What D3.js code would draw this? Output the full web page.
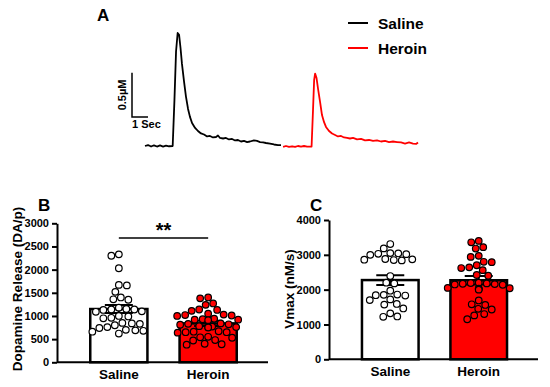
<!DOCTYPE html>
<html>
<head>
<meta charset="utf-8">
<script src="https://cdn.jsdelivr.net/npm/d3@7"></script>
<style>
  body { margin: 0; background: #fff; }
  text { font-family: "Liberation Sans", Arial, sans-serif; font-weight: bold; fill: #000; }
</style>
</head>
<body>
<div id="chart"></div>
<script>
var groups = ["Saline", "Heroin"];
var barFill = ["#ffffff", "#ff0000"];
var traceColor = ["#000000", "#ff0000"];

// A: example traces, [seconds, µM]
var salineTrace = [[0,0],[0.19,0.011],[0.38,-0.006],[0.56,0.008],[0.75,-0.006],[0.94,0.006],[1.13,-0.006],[1.31,0.003],[1.5,-0.003],[1.73,0],[1.84,0.52],[1.94,1.07],[2.04,1.28],[2.13,1.26],[2.22,1.11],[2.31,0.93],[2.44,0.73],[2.56,0.56],[2.69,0.42],[2.81,0.33],[2.94,0.26],[3.13,0.205],[3.31,0.17],[3.5,0.142],[3.69,0.13],[3.88,0.108],[4.06,0.114],[4.25,0.097],[4.44,0.102],[4.56,0.119],[4.69,0.091],[4.88,0.085],[5.06,0.091],[5.25,0.074],[5.44,0.08],[5.63,0.063],[5.81,0.068],[6.0,0.051],[6.19,0.057],[6.38,0.045],[6.56,0.051],[6.81,0.063],[7.0,0.057],[7.19,0.045],[7.38,0.04],[7.56,0.034],[7.81,0.028],[8.06,0.017],[8.31,0.011],[8.5,0.011]];
var heroinTrace = [[8.63,-0.011],[8.81,0],[9.0,-0.011],[9.19,-0.003],[9.38,-0.011],[9.56,0],[9.75,-0.008],[9.94,0],[10.13,-0.006],[10.41,-0.006],[10.5,0.41],[10.57,0.75],[10.63,0.82],[10.72,0.77],[10.82,0.64],[10.94,0.5],[11.06,0.35],[11.19,0.27],[11.31,0.216],[11.5,0.17],[11.69,0.142],[11.88,0.125],[12.06,0.108],[12.25,0.114],[12.44,0.097],[12.63,0.091],[12.81,0.085],[13.0,0.091],[13.25,0.074],[13.5,0.08],[13.75,0.063],[14.0,0.068],[14.25,0.057],[14.5,0.063],[14.75,0.051],[15.0,0.057],[15.25,0.045],[15.5,0.051],[15.75,0.045],[16.0,0.04],[16.25,0.028],[16.5,0.04],[16.75,0.028],[16.94,0.023],[17.06,0.04]];

// B: dopamine release (DA/p)
var releaseTicks = [0, 500, 1000, 1500, 2000, 2500, 3000];
var releaseSaline = [2330, 2300, 2030, 1670, 1660, 1520, 1400, 1360, 1350, 1180, 1150, 1140, 1140, 1130, 1100, 1090, 1000, 990, 960, 950, 850, 840, 830, 800, 760, 740, 700, 690, 680, 660, 620];
var releaseHeroin = [1400, 1380, 1270, 1240, 1140, 1130, 1110, 1050, 1030, 1020, 1010, 1000, 940, 930, 920, 920, 910, 840, 830, 820, 810, 780, 770, 760, 760, 750, 670, 660, 650, 650, 640, 550, 540, 530, 480, 470, 400, 390, 380];
var releaseMean = [1150, 840];
var releaseSem = [85, 55];

// C: Vmax (nM/s)
var vmaxTicks = [0, 1000, 2000, 3000, 4000];
var vmaxSaline = [3310, 3185, 3050, 3040, 3030, 3020, 3000, 2880, 2870, 2860, 2850, 2840, 2390, 2200, 2180, 1970, 1860, 1850, 1840, 1830, 1720, 1700, 1590, 1570, 1460, 1320, 1230, 1220];
var vmaxHeroin = [3400, 3360, 3220, 3180, 2970, 2940, 2800, 2790, 2700, 2640, 2620, 2560, 2420, 2400, 2200, 2190, 2180, 2170, 2160, 2150, 2140, 2050, 2040, 2030, 2020, 2000, 1690, 1580, 1560, 1450, 1430, 1300, 1260, 1150];
var vmaxMean = [2275, 2270];
var vmaxSem = [140, 120];

var svg = d3.select("#chart").append("svg")
  .attr("width", 550)
  .attr("height", 387);

// ---------- panel A ----------
var xTrace = d3.scaleLinear().domain([0, 17.06]).range([145, 418]);
var yTrace = d3.scaleLinear().domain([0, 1.28]).range([146, 33]);
var line = d3.line().x(d => xTrace(d[0])).y(d => yTrace(d[1]));

[salineTrace, heroinTrace].forEach(function(tr, i) {
  svg.append("path")
    .attr("d", line(tr))
    .attr("fill", "none")
    .attr("stroke", traceColor[i])
    .attr("stroke-width", 1.8)
    .attr("stroke-linejoin", "round");
});

svg.append("text").attr("x", 97).attr("y", 21).attr("font-size", 17).text("A");

// scale bar: 0.5 µM and 1 s
var sbX = 132, sbY = 117;
var sbH = yTrace(0) - yTrace(0.5);
var sbW = xTrace(1) - xTrace(0);
svg.append("path")
  .attr("d", `M${sbX},${sbY - sbH}V${sbY}H${sbX + sbW}`)
  .attr("fill", "none")
  .attr("stroke", "#000")
  .attr("stroke-width", 1.5);
svg.append("text")
  .attr("transform", `translate(126, ${sbY - sbH / 2}) rotate(-90)`)
  .attr("text-anchor", "middle")
  .attr("font-size", 11)
  .text("0.5µM");
svg.append("text").attr("x", 132).attr("y", 128).attr("font-size", 11).text("1 Sec");

// legend
groups.forEach(function(g, i) {
  var ly = 23 + i * 25;
  svg.append("line")
    .attr("x1", 348).attr("x2", 368).attr("y1", ly).attr("y2", ly)
    .attr("stroke", traceColor[i]).attr("stroke-width", 2);
  svg.append("text").attr("x", 378).attr("y", ly + 5.5).attr("font-size", 15.5).text(g);
});

// ---------- bar + scatter panels ----------
function swarm(values, cx, y, minDist) {
  var placed = [];
  values.slice().sort((a, b) => b - a).forEach(function(v, i) {
    var py = y(v), best = null;
    for (var k = 0; k < 140 && best === null; k++) {
      var off = Math.ceil(k / 2) * 0.5 * ((k % 2 === 1) === (i % 2 === 0) ? 1 : -1);
      var ok = placed.every(p => (p.x - cx - off) ** 2 + (p.y - py) ** 2 >= minDist * minDist);
      if (ok) best = off;
    }
    placed.push({ x: cx + (best === null ? 0 : best), y: py });
  });
  return placed;
}

function panel(o) {
  var y = d3.scaleLinear().domain([0, o.max]).range([o.y0, o.yTop]);
  var x = d3.scaleBand().domain(groups).range([o.x0 + 2, o.x1]).paddingInner(0.36).paddingOuter(0.35);
  var g = svg.append("g");

  // bars
  g.selectAll("rect.bar").data(groups).enter().append("rect")
    .attr("class", "bar")
    .attr("x", d => x(d))
    .attr("width", x.bandwidth())
    .attr("y", (d, i) => y(o.mean[i]))
    .attr("height", (d, i) => o.y0 - y(o.mean[i]))
    .attr("fill", (d, i) => barFill[i])
    .attr("stroke", "#000")
    .attr("stroke-width", 2.5);

  // error bars (mean ± SEM)
  groups.forEach(function(d, i) {
    var cx = x(d) + x.bandwidth() / 2, hi = y(o.mean[i] + o.sem[i]), lo = y(o.mean[i] - o.sem[i]);
    g.append("path")
      .attr("d", `M${cx},${hi}V${lo}M${cx - 14},${hi}H${cx + 14}M${cx - 14},${lo}H${cx + 14}`)
      .attr("stroke", "#000").attr("stroke-width", 2).attr("fill", "none");
  });

  // individual points
  o.values.forEach(function(vals, i) {
    var cx = x(groups[i]) + x.bandwidth() / 2;
    g.selectAll(null).data(swarm(vals, cx, y, 7.6)).enter().append("circle")
      .attr("cx", d => d.x).attr("cy", d => d.y).attr("r", 3.3)
      .attr("fill", barFill[i]).attr("stroke", "#000").attr("stroke-width", 1.2);
  });

  // axes
  var yAxis = g.append("g")
    .attr("transform", `translate(${o.x0},0)`)
    .call(d3.axisLeft(y).tickValues(o.ticks).tickSize(5).tickSizeOuter(0).tickPadding(3).tickFormat(d3.format("d")));
  var xAxis = g.append("g")
    .attr("transform", `translate(0,${o.y0})`)
    .call(d3.axisBottom(x).tickSize(0).tickSizeOuter(0).tickPadding(7.5));
  xAxis.select(".domain").attr("d", `M${o.x0},0H${o.x1}`);
  [yAxis, xAxis].forEach(function(a) {
    a.select(".domain").attr("stroke", "#000").attr("stroke-width", 2);
    a.selectAll(".tick line").attr("stroke", "#000").attr("stroke-width", 2);
    a.selectAll("text").attr("fill", "#000").style("font-family", "'Liberation Sans', Arial, sans-serif").style("font-weight", "bold");
  });
  yAxis.selectAll("text").attr("font-size", 11);
  xAxis.selectAll("text").attr("font-size", 13.5);

  svg.append("text")
    .attr("transform", `translate(${o.titleX}, 289) rotate(-90)`)
    .attr("text-anchor", "middle")
    .attr("font-size", 13.5)
    .text(o.title);
  svg.append("text").attr("x", o.labelX).attr("y", 211).attr("font-size", 17).text(o.label);
  return { x: x, y: y };
}

var pb = panel({
  x0: 57, x1: 268, y0: 362.3, yTop: 223.3, max: 3000, ticks: releaseTicks,
  values: [releaseSaline, releaseHeroin], mean: releaseMean, sem: releaseSem,
  title: "Dopamine Release (DA/p)", titleX: 22, label: "B", labelX: 38
});

// significance marker between groups
var c1 = pb.x("Saline") + pb.x.bandwidth() / 2, c2 = pb.x("Heroin") + pb.x.bandwidth() / 2;
svg.append("line").attr("x1", c1).attr("x2", c2).attr("y1", 238).attr("y2", 238)
  .attr("stroke", "#000").attr("stroke-width", 1.6);
svg.append("text").attr("x", (c1 + c2) / 2).attr("y", 237).attr("text-anchor", "middle")
  .attr("font-size", 20).text("**");

panel({
  x0: 329, x1: 538, y0: 359.3, yTop: 220, max: 4000, ticks: vmaxTicks,
  values: [vmaxSaline, vmaxHeroin], mean: vmaxMean, sem: vmaxSem,
  title: "Vmax (nM/s)", titleX: 294, label: "C", labelX: 310
});
</script>
</body>
</html>
